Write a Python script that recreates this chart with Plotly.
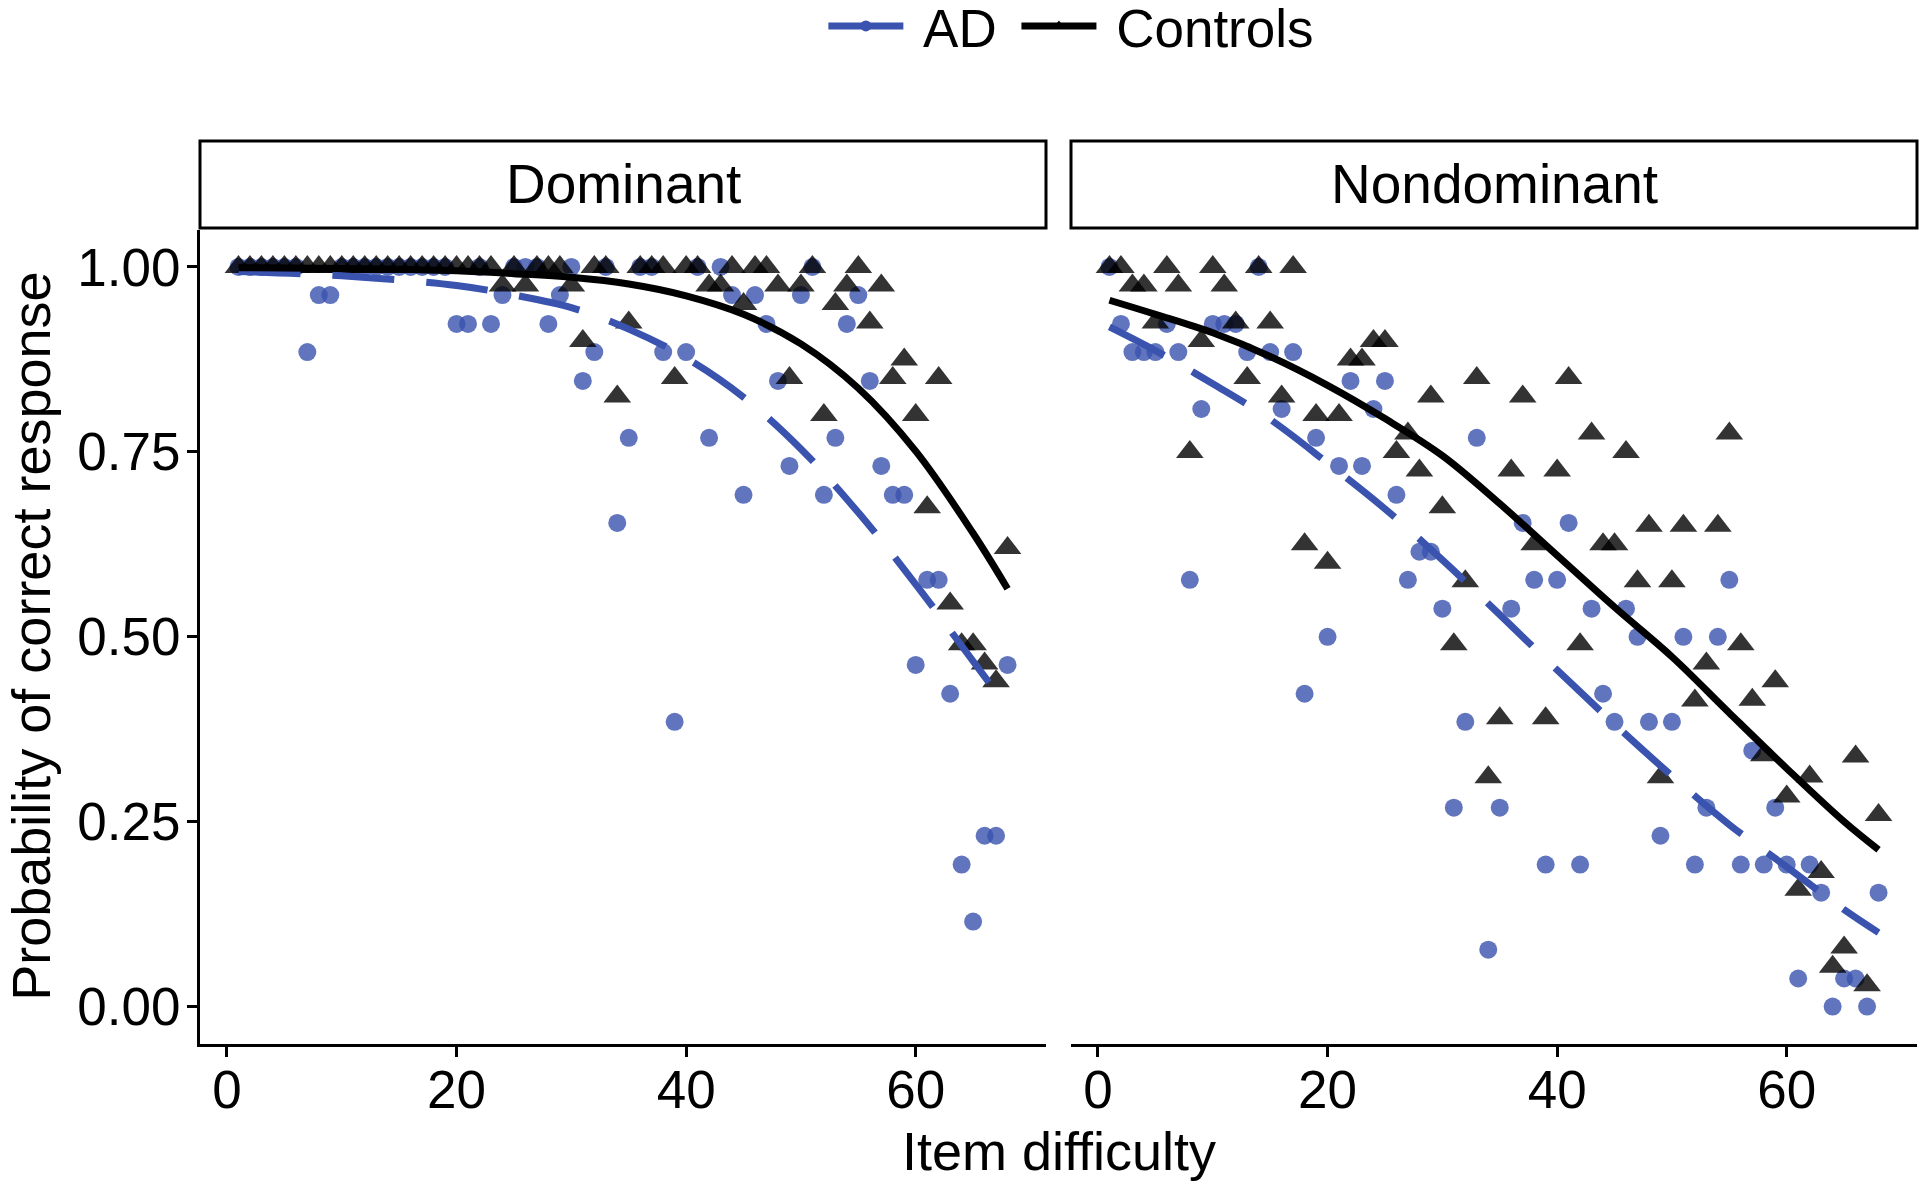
import plotly.graph_objects as go

# ---------------- data ----------------
items = list(range(1, 69))

dom_ad = [1.0, 1.0, 1.0, 1.0, 1.0, 1.0, 0.885, 0.962, 0.962, 1.0,
          1.0, 1.0, 1.0, 1.0, 1.0, 1.0, 1.0, 1.0, 1.0, 0.923,
          0.923, 1.0, 0.923, 0.962, 1.0, 1.0, 1.0, 0.923, 0.962, 1.0,
          0.846, 0.885, 1.0, 0.654, 0.769, 1.0, 1.0, 0.885, 0.385, 0.885,
          1.0, 0.769, 1.0, 0.962, 0.692, 0.962, 0.923, 0.846, 0.731, 0.962,
          1.0, 0.692, 0.769, 0.923, 0.962, 0.846, 0.731, 0.692, 0.692, 0.462,
          0.577, 0.577, 0.423, 0.192, 0.115, 0.231, 0.231, 0.462]

dom_ctrl = [1.0, 1.0, 1.0, 1.0, 1.0, 1.0, 1.0, 1.0, 1.0, 1.0,
            1.0, 1.0, 1.0, 1.0, 1.0, 1.0, 1.0, 1.0, 1.0, 1.0,
            1.0, 1.0, 1.0, 0.975, 1.0, 0.975, 1.0, 1.0, 1.0, 0.975,
            0.9, 1.0, 1.0, 0.825, 0.925, 1.0, 1.0, 1.0, 0.85, 1.0,
            1.0, 0.975, 0.975, 1.0, 0.95, 1.0, 1.0, 0.975, 0.85, 0.975,
            1.0, 0.8, 0.95, 0.975, 1.0, 0.925, 0.975, 0.85, 0.875, 0.8,
            0.675, 0.85, 0.545, 0.49, 0.49, 0.464, 0.44, 0.62]

nondom_ad = [1.0, 0.923, 0.885, 0.885, 0.885, 0.923, 0.885, 0.577, 0.808, 0.923,
             0.923, 0.923, 0.885, 1.0, 0.885, 0.808, 0.885, 0.423, 0.769, 0.5,
             0.731, 0.846, 0.731, 0.808, 0.846, 0.692, 0.577, 0.615, 0.615, 0.538,
             0.269, 0.385, 0.769, 0.077, 0.269, 0.538, 0.654, 0.577, 0.192, 0.577,
             0.654, 0.192, 0.538, 0.423, 0.385, 0.538, 0.5, 0.385, 0.231, 0.385,
             0.5, 0.192, 0.269, 0.5, 0.577, 0.192, 0.346, 0.192, 0.269, 0.192,
             0.038, 0.192, 0.154, 0.0, 0.038, 0.038, 0.0, 0.154]

nondom_ctrl = [1.0, 1.0, 0.975, 0.975, 0.925, 1.0, 0.975, 0.75, 0.9, 1.0,
               0.975, 0.925, 0.85, 1.0, 0.925, 0.825, 1.0, 0.625, 0.8, 0.6,
               0.8, 0.875, 0.875, 0.9, 0.9, 0.75, 0.775, 0.725, 0.825, 0.675,
               0.49, 0.575, 0.85, 0.31, 0.39, 0.725, 0.825, 0.625, 0.39, 0.725,
               0.85, 0.49, 0.775, 0.625, 0.625, 0.75, 0.575, 0.65, 0.31, 0.575,
               0.65, 0.414, 0.464, 0.65, 0.775, 0.49, 0.415, 0.34, 0.44, 0.284,
               0.158, 0.311, 0.182, 0.054, 0.08, 0.338, 0.029, 0.259]

# fitted curves
fit_x_dom = [1, 10, 20, 25, 30, 35, 40, 45, 50, 55, 60, 65, 68]
fit_dom_ctrl = [0.999, 0.998, 0.995, 0.991, 0.986, 0.977, 0.961, 0.936, 0.896, 0.836, 0.751, 0.640, 0.565]
fit_dom_ad = [0.994, 0.988, 0.975, 0.962, 0.945, 0.916, 0.877, 0.824, 0.754, 0.668, 0.571, 0.467, 0.405]

fit_x_nondom = [1, 5, 10, 15, 20, 25, 30, 35, 40, 45, 50, 55, 60, 65, 68]
fit_nondom_ctrl = [0.955, 0.936, 0.911, 0.879, 0.840, 0.795, 0.745, 0.680, 0.610, 0.540, 0.473, 0.397, 0.322, 0.250, 0.212]
fit_nondom_ad = [0.919, 0.887, 0.842, 0.794, 0.735, 0.673, 0.604, 0.530, 0.455, 0.382, 0.312, 0.246, 0.189, 0.131, 0.100]

panels = ["Dominant", "Nondominant"]
groups = ["AD", "Controls"]
x_ticks = [0, 20, 40, 60]
y_ticks = [0, 0.25, 0.5, 0.75, 1.0]
y_tick_text = ["0.00", "0.25", "0.50", "0.75", "1.00"]

# ---------------- styling ----------------
W, H = 1920, 1191
FONT = "Liberation Sans, Arial, Helvetica, sans-serif"
AD_LINE = "#3953AE"
AD_PT = "rgba(57,83,174,0.8)"
CT_LINE = "#000000"
CT_PT = "rgba(0,0,0,0.8)"
LW = 7
NB = "\u00a0"


def fx(p):
    return p / W


def fy(p):
    return 1 - p / H


fig = go.Figure()

panel_data = [
    ("x", "y", dom_ad, dom_ctrl, fit_x_dom, fit_dom_ad, fit_dom_ctrl),
    ("x2", "y2", nondom_ad, nondom_ctrl, fit_x_nondom, fit_nondom_ad, fit_nondom_ctrl),
]

for xa, ya, ad, ct, fx_, fad, fct in panel_data:
    fig.add_trace(go.Scatter(x=items, y=ad, mode="markers", xaxis=xa, yaxis=ya,
                             marker=dict(symbol="circle", size=18, color=AD_PT, line=dict(width=0)),
                             showlegend=False, hoverinfo="skip"))
    fig.add_trace(go.Scatter(x=items, y=ct, mode="markers", xaxis=xa, yaxis=ya,
                             marker=dict(symbol="triangle-up", size=24, color=CT_PT, line=dict(width=0)),
                             showlegend=False, hoverinfo="skip"))
    fig.add_trace(go.Scatter(x=fx_, y=fad, mode="lines", xaxis=xa, yaxis=ya,
                             line=dict(color=AD_LINE, width=LW, dash="62px,32px", shape="spline"),
                             showlegend=False, hoverinfo="skip"))
    fig.add_trace(go.Scatter(x=fx_, y=fct, mode="lines", xaxis=xa, yaxis=ya,
                             line=dict(color=CT_LINE, width=LW, shape="spline"),
                             showlegend=False, hoverinfo="skip"))

# legend entries
fig.add_trace(go.Scatter(x=[None], y=[None], mode="lines+markers", name=NB + groups[0] + NB,
                         line=dict(color=AD_LINE, width=LW),
                         marker=dict(symbol="circle", size=11, color=AD_LINE)))
fig.add_trace(go.Scatter(x=[None], y=[None], mode="lines+markers", name=NB + groups[1],
                         line=dict(color=CT_LINE, width=LW),
                         marker=dict(symbol="triangle-up", size=11, color=CT_LINE)))

dom_x = [fx(200), fx(1046)]
nondom_x = [fx(1071), fx(1917)]
y_dom = [fy(1043.6), fy(230)]

axis_common = dict(
    showgrid=False, zeroline=False, showline=True, linecolor="black", linewidth=3,
    ticks="outside", ticklen=10, tickwidth=3, tickcolor="black",
    tickfont=dict(family=FONT, size=53, color="black"),
)

fig.update_layout(
    width=W, height=H, autosize=False,
    margin=dict(l=0, r=0, t=0, b=0, autoexpand=False),
    paper_bgcolor="white", plot_bgcolor="white",
    font=dict(family=FONT, color="black"),
    xaxis=dict(domain=dom_x, range=[-2.35, 71.35], tickvals=x_ticks, anchor="y",
               ticklabelstandoff=-12, **axis_common),
    xaxis2=dict(domain=nondom_x, range=[-2.35, 71.35], tickvals=x_ticks, anchor="y2",
                ticklabelstandoff=-12, **axis_common),
    yaxis=dict(domain=y_dom, range=[-0.05, 1.05], tickvals=y_ticks, ticktext=y_tick_text,
               anchor="x", ticklabelstandoff=-4, **axis_common),
    yaxis2=dict(domain=y_dom, range=[-0.05, 1.05], anchor="x2", showgrid=False, zeroline=False,
                showline=False, ticks="", showticklabels=False, matches="y"),
    legend=dict(orientation="h", x=0.558, xanchor="center", y=fy(26), yanchor="middle",
                font=dict(family=FONT, size=53, color="black"), bgcolor="rgba(0,0,0,0)",
                itemwidth=75, tracegroupgap=0),
    showlegend=True,
)

# facet strips
shapes = []
annotations = []
for name, dx in zip(panels, [dom_x, nondom_x]):
    shapes.append(dict(type="rect", xref="paper", yref="paper", x0=dx[0], x1=dx[1],
                       y0=fy(228), y1=fy(141), line=dict(color="black", width=3),
                       fillcolor="white", layer="below"))
    annotations.append(dict(text=name, xref="paper", yref="paper", x=(dx[0] + dx[1]) / 2,
                            y=fy(184.5), xanchor="center", yanchor="middle", showarrow=False,
                            font=dict(family=FONT, size=55, color="black")))

annotations.append(dict(text="Item difficulty", xref="paper", yref="paper",
                        x=(dom_x[0] + nondom_x[1]) / 2, y=fy(1151), xanchor="center",
                        yanchor="middle", showarrow=False,
                        font=dict(family=FONT, size=54, color="black")))
annotations.append(dict(text="Probability of correct response", xref="paper", yref="paper",
                        x=fx(31), y=(y_dom[0] + y_dom[1]) / 2, xanchor="center",
                        yanchor="middle", textangle=-90, showarrow=False,
                        font=dict(family=FONT, size=54, color="black")))

fig.update_layout(shapes=shapes, annotations=annotations)

fig.write_html("out.html", config={"displayModeBar": False},
               post_script="document.body.style.margin='0';")
